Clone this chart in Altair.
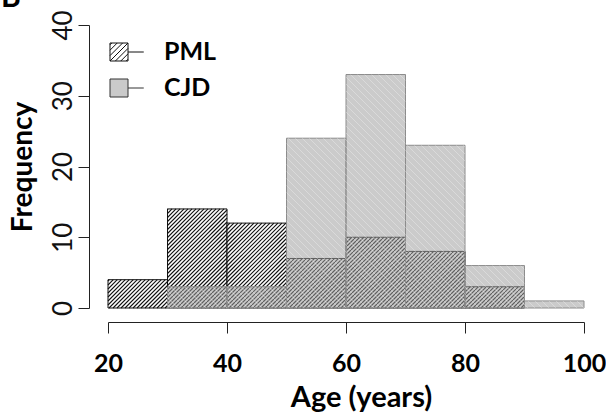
import altair as alt
import pandas as pd
import numpy as np

# ---- data ----
bin_starts = [20, 30, 40, 50, 60, 70, 80, 90]
pml_counts = [4, 14, 12, 7, 10, 8, 3, 0]
cjd_counts = [0, 3, 3, 24, 33, 23, 6, 1]
bin_width = 10
series = ["PML", "CJD"]
x_ticks = [20, 40, 60, 80, 100]
y_ticks = [0, 10, 20, 30, 40]

# ---- layout / style constants ----
W, H = 476, 283
X_DOM = [20, 100]
Y_DOM = [0, 40]
SX = W / (X_DOM[1] - X_DOM[0])   # px per x unit
SY = H / (Y_DOM[1] - Y_DOM[0])   # px per y unit
FONT = "Lato"


def bars(counts, name):
    df = pd.DataFrame({"start": bin_starts, "count": counts})
    df["end"] = df["start"] + bin_width
    df["base"] = 0
    df["series"] = name
    return df[df["count"] > 0]


def hatch(counts, spacing_px, direction):
    """45-degree hatch segments clipped to each histogram bar (data units)."""
    s = SX / SY
    step = spacing_px / SX
    rows = []
    for x0, h in zip(bin_starts, counts):
        if h <= 0:
            continue
        x1 = x0 + bin_width
        if direction > 0:  # '/'
            c = np.floor((x0 - h / s) / step) * step
            while c < x1:
                xa, xb = max(c, x0), min(c + h / s, x1)
                if xb > xa:
                    rows.append(dict(x=xa, y=s * (xa - c), x2=xb, y2=s * (xb - c)))
                c += step
        else:  # '\'
            c = np.floor(x0 / step) * step
            while c < x1 + h / s:
                xa, xb = max(c - h / s, x0), min(c, x1)
                if xb > xa:
                    rows.append(dict(x=xa, y=s * (c - xa), x2=xb, y2=s * (c - xb)))
                c += step
    return pd.DataFrame(rows)


pml_df = bars(pml_counts, series[0])
cjd_df = bars(cjd_counts, series[1])
pml_hatch = hatch(pml_counts, 4.0, 1)
cjd_hatch = hatch(cjd_counts, 7.0, -1)

xscale = alt.Scale(domain=X_DOM, nice=False, zero=False)
yscale = alt.Scale(domain=Y_DOM, nice=False)

x_axis = alt.Axis(
    values=x_ticks, title="Age (years)", grid=False, offset=14, tickSize=11,
    labelFont=FONT, labelFontSize=25, labelFontWeight="bold", labelColor="#000",
    labelPadding=18, labelFlush=False,
    titleFont=FONT, titleFontSize=29, titleFontWeight="bold", titleColor="#000",
    titlePadding=7, titleX=253, domainColor="#222", tickColor="#222",
)
y_axis = alt.Axis(
    values=y_ticks, title="Frequency", grid=False, offset=19, tickSize=11,
    labelFont=FONT, labelFontSize=26, labelFontWeight="normal", labelColor="#111",
    labelAngle=270, labelAlign="center", labelBaseline="middle", labelPadding=15,
    labelFlush=False,
    titleFont=FONT, titleFontSize=28, titleFontWeight="bold", titleColor="#000",
    titlePadding=13, domainColor="#222", tickColor="#222",
)

pml_bars = alt.Chart(pml_df).mark_rect(fill="white", stroke="#111", strokeWidth=1).encode(
    x=alt.X("start:Q", scale=xscale, axis=x_axis),
    x2="end:Q",
    y=alt.Y("count:Q", scale=yscale, axis=y_axis),
    y2="base:Q",
)
pml_lines = alt.Chart(pml_hatch).mark_rule(color="#111", strokeWidth=1.1).encode(
    x=alt.X("x:Q", scale=xscale), x2="x2:Q",
    y=alt.Y("y:Q", scale=yscale), y2="y2:Q",
)
cjd_bars = alt.Chart(cjd_df).mark_rect(
    fill="#a0a0a0", fillOpacity=0.55, stroke="#8c8c8c", strokeWidth=1
).encode(
    x=alt.X("start:Q", scale=xscale), x2="end:Q",
    y=alt.Y("count:Q", scale=yscale), y2="base:Q",
)
cjd_lines = alt.Chart(cjd_hatch).mark_rule(color="white", strokeWidth=1, opacity=0.3).encode(
    x=alt.X("x:Q", scale=xscale), x2="x2:Q",
    y=alt.Y("y:Q", scale=yscale), y2="y2:Q",
)

# ---- manual legend ----
leg_df = pd.DataFrame({"label": series})
hatch_path = (
    "M-1,-1H1V1H-1Z M1,0H2.75 "
    "M-1,1L1,-1 M-0.4,1L1,-0.4 M-1,0.4L0.4,-1 M0.2,1L1,0.2 M-1,-0.2L-0.2,-1 "
    "M0.8,1L1,0.8 M-1,-0.8L-0.8,-1"
)
plain_path = "M-1,-1H1V1H-1Z M1,0H2.75"

leg_pml_sym = alt.Chart(leg_df).transform_filter(alt.datum.label == series[0]).mark_point(
    shape=hatch_path, size=324, filled=True, fill="white", stroke="#111", strokeWidth=1, opacity=1
).encode(x=alt.value(11), y=alt.value(27))
leg_cjd_sym = alt.Chart(leg_df).transform_filter(alt.datum.label == series[1]).mark_point(
    shape=plain_path, size=324, filled=True, fill="#cacaca", stroke="#333", strokeWidth=1, opacity=1
).encode(x=alt.value(11), y=alt.value(63))
leg_pml_txt = alt.Chart(leg_df).transform_filter(alt.datum.label == series[0]).mark_text(
    font=FONT, fontSize=25, fontWeight="bold", align="left", baseline="middle", color="#000"
).encode(x=alt.value(56), y=alt.value(27), text="label:N")
leg_cjd_txt = alt.Chart(leg_df).transform_filter(alt.datum.label == series[1]).mark_text(
    font=FONT, fontSize=25, fontWeight="bold", align="left", baseline="middle", color="#000"
).encode(x=alt.value(56), y=alt.value(63), text="label:N")

panel_lbl = alt.Chart(leg_df).transform_filter(alt.datum.label == series[0]).mark_text(
    font=FONT, fontSize=30, fontWeight="bold", align="left", baseline="alphabetic", color="#000",
    text="B",
).encode(x=alt.value(-107), y=alt.value(-18))

chart = alt.layer(
    pml_bars, pml_lines, cjd_bars, cjd_lines,
    leg_pml_sym, leg_cjd_sym, leg_pml_txt, leg_cjd_txt, panel_lbl,
).properties(
    width=W, height=H,
    autosize=alt.AutoSizeParams(type="none"),
    padding={"left": 108, "top": 25, "right": 22, "bottom": 111},
    background="white",
).configure_view(strokeWidth=0)

chart.save("out.html", embed_options={"renderer": "svg", "actions": False})
